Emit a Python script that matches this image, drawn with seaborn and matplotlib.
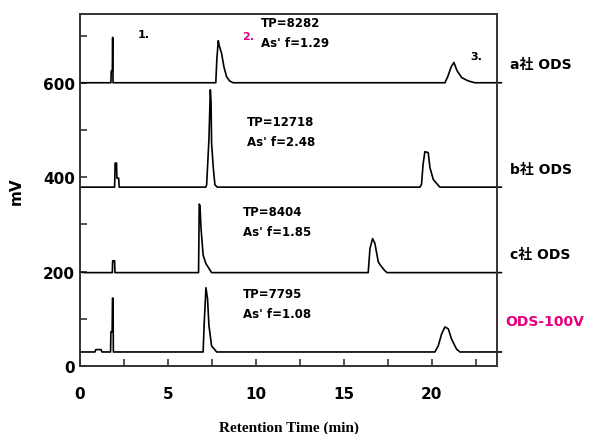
"""Chromatogram comparison: four ODS columns, stacked traces with offsets."""
import matplotlib
matplotlib.use('Agg')
import matplotlib.pyplot as plt
from matplotlib.ticker import MultipleLocator
import pandas as pd
import seaborn as sns

# ---- data (time in min, signal in mV incl. offset) ----
TIME_A = [0.0, 1.76, 1.78, 1.84, 1.86, 1.88, 1.92, 7.72, 7.78, 7.86, 7.92, 8.05,
          8.18, 8.33, 8.50, 8.70, 20.74, 20.90, 21.10, 21.25, 21.42, 21.69,
          22.05, 22.44, 23.96]
SIG_A = [600, 600, 625, 625, 696, 600, 600, 600, 650, 689, 678, 662,
         634, 613, 604, 600, 600, 613, 634, 643, 626, 611,
         604, 600, 600]

TIME_B = [0.0, 1.97, 2.00, 2.08, 2.10, 2.20, 2.23, 7.15, 7.20, 7.33, 7.41, 7.45,
          7.48, 7.58, 7.67, 7.80, 19.32, 19.41, 19.50, 19.60, 19.79, 19.89,
          20.08, 20.45, 23.96]
SIG_B = [379, 379, 430, 430, 398, 398, 379, 379, 384, 480, 585, 560,
         472, 419, 384, 379, 379, 385, 428, 454, 452, 420,
         395, 379, 379]

TIME_C = [0.0, 0.30, 1.84, 1.86, 1.97, 1.99, 6.74, 6.78, 6.82, 6.88, 7.00,
          7.16, 7.48, 16.38, 16.48, 16.63, 16.76, 16.95, 17.05, 17.30,
          17.45, 23.96]
SIG_C = [199, 198, 198, 223, 223, 198, 198, 343, 340, 292, 235,
         217, 198, 198, 249, 270, 260, 221, 215, 203,
         198, 198]

TIME_D = [0.0, 0.85, 0.90, 1.20, 1.25, 1.74, 1.76, 1.83, 1.85, 1.88, 1.90,
          7.00, 7.06, 7.16, 7.25, 7.33, 7.48, 7.77, 20.17, 20.36, 20.55,
          20.74, 20.93, 21.12, 21.40, 21.59, 23.96]
SIG_D = [30, 30, 35, 35, 30, 30, 73, 73, 144, 144, 30,
         30, 90, 166, 143, 86, 43, 30, 30, 43, 68,
         83, 79, 57, 36, 30, 30]

TRACE_NAMES = ['a', 'b', 'c', 'd']
COLUMN_LABELS = ['a社 ODS', 'b社 ODS', 'c社 ODS', 'ODS-100V']
TP_LABELS = ['TP=8282', 'TP=12718', 'TP=8404', 'TP=7795']
AS_LABELS = ["As' f=1.29", "As' f=2.48", "As' f=1.85", "As' f=1.08"]
PEAK_LABELS = ['1.', '2.', '3.']

PINK = '#e4007f'

sns.set_style('ticks')
plt.rcParams['font.family'] = ['DejaVu Sans', 'Noto Sans CJK JP']
plt.rcParams['font.weight'] = 'bold'
plt.rcParams['text.color'] = 'black'
plt.rcParams['axes.labelcolor'] = 'black'
plt.rcParams['xtick.labelcolor'] = 'black'
plt.rcParams['ytick.labelcolor'] = 'black'

frames = []
for name, t, s in zip(TRACE_NAMES, [TIME_A, TIME_B, TIME_C, TIME_D],
                      [SIG_A, SIG_B, SIG_C, SIG_D]):
    frames.append(pd.DataFrame({'time': t, 'mV': s, 'trace': name}))
df = pd.concat(frames, ignore_index=True)

fig = plt.figure(figsize=(6.01, 4.35), dpi=100)
ax = fig.add_axes([0.133, 0.156, 0.694, 0.81])

sns.lineplot(data=df, x='time', y='mV', hue='trace', units='trace',
             palette=['black'] * 4, estimator=None, sort=False,
             legend=False, linewidth=1.2, ax=ax)
for line in ax.get_lines():
    line.set_clip_on(False)

ax.set_xlim(0, 23.7)
ax.set_ylim(0, 746)
ax.xaxis.set_major_locator(MultipleLocator(5))
ax.xaxis.set_minor_locator(MultipleLocator(2.5))
ax.yaxis.set_major_locator(MultipleLocator(200))
ax.yaxis.set_minor_locator(MultipleLocator(100))
ax.tick_params(which='both', direction='in', length=5, width=1.2,
               color='#333333', labelsize=11)
ax.tick_params(axis='x', pad=14)
for sp in ax.spines.values():
    sp.set_linewidth(1.4)
    sp.set_color('#333333')

ax.set_xlabel('Retention Time (min)', fontsize=11, fontweight='bold',
              family='Liberation Serif', labelpad=14)
ax.set_ylabel('mV', fontsize=11, fontweight='bold', labelpad=14)

# peak numbers on the top trace
ax.text(3.3, 704, PEAK_LABELS[0], fontsize=8, fontweight='bold', va='center')
ax.text(9.2, 700, PEAK_LABELS[1], fontsize=8, fontweight='bold', va='center',
        color=PINK)
ax.text(22.2, 657, PEAK_LABELS[2], fontsize=8, fontweight='bold', va='center')

# plate count / asymmetry annotations
tp_x = [10.3, 9.5, 9.25, 9.25]
tp_y = [727, 517, 327, 153]
for x, y, tp, asf in zip(tp_x, tp_y, TP_LABELS, AS_LABELS):
    ax.text(x, y, tp, fontsize=8.5, fontweight='bold', va='center')
    ax.text(x, y - 42, asf, fontsize=8.5, fontweight='bold', va='center')

# column names right of the axes
label_y = [0.851, 0.609, 0.414, 0.26]
label_x = [0.849, 0.849, 0.849, 0.840]
label_c = ['black', 'black', 'black', PINK]
for x, y, lab, c in zip(label_x, label_y, COLUMN_LABELS, label_c):
    fig.text(x, y, lab, fontsize=10, fontweight='bold', va='center', color=c)

fig.savefig('out.png', dpi=100)
